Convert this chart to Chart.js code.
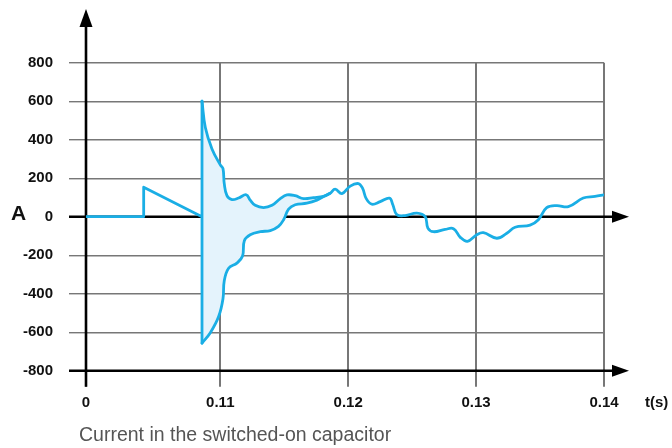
<!DOCTYPE html>
<html>
<head>
<meta charset="utf-8">
<script src="https://cdn.jsdelivr.net/npm/chart.js@4.4.0/dist/chart.umd.min.js"></script>
<style>
  body { margin: 0; background: #fff; }
  #wrap { position: relative; width: 672px; height: 448px; overflow: hidden; font-family: 'Liberation Sans', Arial, sans-serif; }
  #chart { position: absolute; left: 0; top: 0; }
  .lbl { position: absolute; white-space: nowrap; }
  #yName { left: 11px; top: 202px; font-size: 21px; line-height: 21px; font-weight: bold; color: #111; }
  #xName { left: 645px; top: 394px; font-size: 15px; line-height: 15px; font-weight: bold; color: #111; }
  #caption { left: 79px; top: 425px; font-size: 19.5px; line-height: 19px; color: #555; }
</style>
</head>
<body>
<div id="wrap">
  <canvas id="chart" width="672" height="448"></canvas>
  <div class="lbl" id="yName">A</div>
  <div class="lbl" id="xName">t(s)</div>
  <div class="lbl" id="caption">Current in the switched-on capacitor</div>
</div>
<script>
Chart.defaults.font.family = "'Liberation Sans', Arial, sans-serif";
Chart.defaults.color = '#111';

// axis (the time axis is broken: its left end is labelled 0)
const xStart = 0.0995;
const xTicks = [0.0995, 0.11, 0.12, 0.13, 0.14];
const xTickLabels = ['0', '0.11', '0.12', '0.13', '0.14'];
const yTicks = [-800, -600, -400, -200, 0, 200, 400, 600, 800];

// before switching on: flat, small ramp, then the spike
const preT = [0.0995, 0.10401, 0.10401, 0.10857, 0.10857, 0.10857];
const preA = [0, 0, 153, 0, -657, 600];

// upper branch of the current after switch-on
const upperT = [0.10857, 0.10883, 0.10935, 0.11000, 0.11021, 0.11031, 0.11052, 0.11091, 0.11143, 0.11203,
  0.11234, 0.11273, 0.11338, 0.11404, 0.11469, 0.11521, 0.11586, 0.11651, 0.11729, 0.11807,
  0.11859, 0.11898, 0.11951, 0.12016, 0.12080, 0.12112, 0.12141, 0.12185, 0.12250, 0.12323,
  0.12349, 0.12380, 0.12445, 0.12537, 0.12602, 0.12623, 0.12666, 0.12758, 0.12823, 0.12875,
  0.12932, 0.13005, 0.13057, 0.13162, 0.13240, 0.13305, 0.13422, 0.13487, 0.13552, 0.13630,
  0.13721, 0.13838, 0.13930, 0.14000];
const upperA = [600, 463, 352, 269, 250, 172, 109, 89, 97, 114,
  86, 59, 47, 59, 94, 113, 109, 94, 99, 106,
  122, 143, 120, 159, 172, 148, 94, 65, 78, 96,
  62, 11, 6, 19, 0, -59, -78, -66, -62, -106,
  -128, -94, -83, -112, -86, -55, -44, -16, 47, 58,
  52, 97, 105, 114];

// lower branch, joins the upper one near 0.1186
const lowerT = [0.10857, 0.10922, 0.10987, 0.11021, 0.11031, 0.11065, 0.11130, 0.11174, 0.11188, 0.11234,
  0.11313, 0.11391, 0.11455, 0.11495, 0.11534, 0.11586, 0.11677, 0.11755, 0.11807, 0.11859];
const lowerA = [-657, -603, -519, -426, -333, -268, -241, -204, -125, -94,
  -78, -72, -50, -16, 39, 62, 70, 86, 105, 122];

const lineColor = '#1aaee5';
const fillColor = '#e4f3fc';

function pts(ts, vs) {
  return ts.map((t, i) => ({ x: t, y: vs[i] }));
}

// black axes with arrow heads
const axisArrows = {
  id: 'axisArrows',
  beforeDatasetsDraw(chart) {
    const { ctx, chartArea: a, scales } = chart;
    const x0 = scales.x.getPixelForValue(xStart);
    ctx.save();
    ctx.strokeStyle = '#000';
    ctx.fillStyle = '#000';
    ctx.lineWidth = 2.6;

    ctx.beginPath();
    ctx.moveTo(x0, a.bottom + 16);
    ctx.lineTo(x0, 24);
    ctx.stroke();
    ctx.beginPath();
    ctx.moveTo(x0, 9);
    ctx.lineTo(x0 - 6.5, 27);
    ctx.lineTo(x0 + 6.5, 27);
    ctx.closePath();
    ctx.fill();

    [0, -800].forEach(v => {
      const py = scales.y.getPixelForValue(v);
      ctx.beginPath();
      ctx.moveTo(a.left - 17, py);
      ctx.lineTo(a.right + 12, py);
      ctx.stroke();
      ctx.beginPath();
      ctx.moveTo(a.right + 25, py);
      ctx.lineTo(a.right + 8, py - 6);
      ctx.lineTo(a.right + 8, py + 6);
      ctx.closePath();
      ctx.fill();
    });
    ctx.restore();
  }
};

const common = {
  borderColor: lineColor,
  borderWidth: 2.8,
  pointRadius: 0,
  borderJoinStyle: 'round',
  borderCapStyle: 'round'
};

new Chart(document.getElementById('chart'), {
  type: 'line',
  data: {
    datasets: [
      { ...common, data: pts(preT, preA), tension: 0, fill: false },
      { ...common, data: pts(upperT, upperA), tension: 0.4, fill: false },
      { ...common, data: pts(lowerT, lowerA), tension: 0.4, fill: '-1', backgroundColor: fillColor }
    ]
  },
  options: {
    responsive: false,
    animation: false,
    layout: { padding: { top: 62.7, right: 68, bottom: 0, left: 0 } },
    plugins: { legend: { display: false }, tooltip: { enabled: false } },
    scales: {
      x: {
        type: 'linear',
        min: xStart,
        max: 0.14,
        afterBuildTicks: s => { s.ticks = xTicks.map(v => ({ value: v })); },
        afterFit: s => { s.height = 77.3; },
        ticks: {
          autoSkip: false,
          maxRotation: 0,
          padding: 7,
          font: { size: 15, weight: 'bold' },
          callback: (v, i) => xTickLabels[i]
        },
        grid: { color: '#777', lineWidth: 2, tickLength: 16 },
        border: { display: false }
      },
      y: {
        min: -800,
        max: 800,
        afterBuildTicks: s => { s.ticks = yTicks.map(v => ({ value: v })); },
        afterFit: s => { s.width = 86; },
        ticks: {
          padding: 16,
          font: { size: 15, weight: 'bold' }
        },
        grid: { color: '#777', lineWidth: 1.4, tickLength: 17 },
        border: { display: false }
      }
    }
  },
  plugins: [axisArrows]
});
</script>
</body>
</html>
